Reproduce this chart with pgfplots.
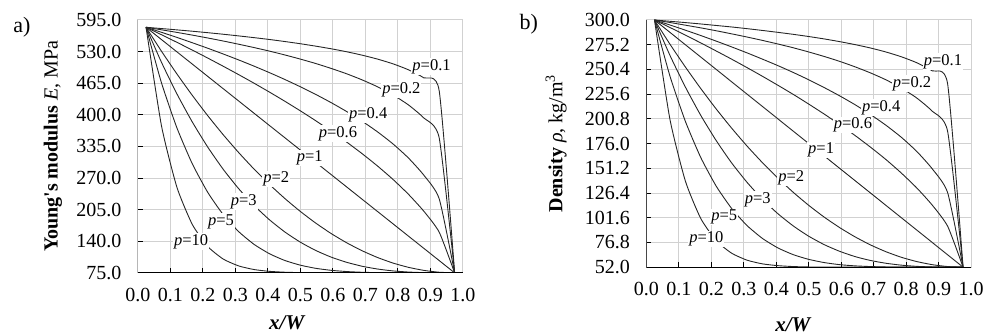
\documentclass[border=0pt]{standalone}
\usepackage{fontspec}
\setmainfont{Liberation Serif}
\usepackage{pgfplots}
\pgfplotsset{compat=1.18}
\usepackage{pgfplotstable}

\pgfplotstableread{
x      p01   p02   p04   p06   p1     p2    p3    p5    p10
0.025  580   580   580   580   580    580   580   580   580
0.0725 577.4 574.8 569.7 564.7 554.75 530.8 508.0 465.8 377.4
0.12   574.7 569.5 559.2 549.1 529.5  484.1 443.1 373.2 251.1
0.1675 571.9 563.9 548.2 533.1 504.25 439.9 385.1 299.1 174.4
0.215  568.9 558.0 536.9 516.7 479    398.2 333.6 240.5 129.2
0.2625 565.7 551.8 525.1 499.9 453.75 359.1 288.0 194.8 103.4
0.31   562.3 545.2 512.9 482.7 428.5  322.5 248.2 159.9 89.3
0.3575 558.7 538.3 500.1 465.0 403.25 288.4 213.7 133.6 81.8
0.405  554.9 531.0 486.7 446.7 378    256.8 184.1 114.3 78.1
0.4525 550.7 523.1 472.6 427.8 352.75 227.8 159.0 100.4 76.3
0.5    546.2 514.6 457.7 408.2 327.5  201.3 138.1 90.8  75.5
0.5475 541.2 505.5 441.9 387.8 302.25 177.3 121.0 84.3  75.2
0.595  535.8 495.4 425.0 366.4 277    155.8 107.3 80.2  75.1
0.6425 529.7 484.4 406.8 344.0 251.75 136.9 96.7  77.7  75.0
0.69   522.7 471.9 387.0 320.2 226.5  120.5 88.6  76.2  75.0
0.7375 514.6 457.7 365.0 294.8 201.25 106.6 82.9  75.5  75.0
0.785  504.9 441.0 340.3 267.3 176    95.2  79.0  75.2  75.0
0.8325 492.7 420.5 311.4 236.8 150.75 86.4  76.7  75.0  75.0
0.88   476.1 393.6 276.0 201.9 125.5  80.1  75.5  75.0  75.0
0.9275 449.3 352.4 227.4 158.7 100.25 76.3  75.1  75.0  75.0
0.975  75    75    75    75    75     75    75    75    75
}\tableA

\pgfplotstableread{
x      p01   p02   p04   p06   p1    p2    p3    p5    p10
0.025  300   300   300   300   300   300   300   300   300
0.0725 298.7 297.5 295.0 292.5 287.6 275.8 264.6 243.9 200.5
0.12   297.4 294.8 289.8 284.8 275.2 252.9 232.8 198.4 138.5
0.1675 296.0 292.1 284.4 277.0 262.8 231.2 204.3 162.0 100.8
0.215  294.5 289.2 278.8 268.9 250.4 210.7 179.0 133.3 78.6
0.2625 293.0 286.1 273.0 260.7 238   191.5 156.6 110.9 66.0
0.31   291.3 282.9 267.0 252.2 225.6 173.5 137.1 93.7  59.0
0.3575 289.5 279.5 260.7 243.5 213.2 156.8 120.1 80.8  55.3
0.405  287.6 275.9 254.2 234.5 200.8 141.3 105.6 71.3  53.5
0.4525 285.6 272.1 247.3 225.3 188.4 127.0 93.3  64.5  52.6
0.5    283.4 267.9 240.0 215.6 176   114.0 83.0  59.8  52.2
0.5475 281.0 263.4 232.2 205.6 163.6 102.2 74.6  56.6  52.1
0.595  278.3 258.5 223.9 195.1 151.2 91.7  67.9  54.5  52.0
0.6425 275.3 253.0 215.0 184.1 138.8 82.4  62.6  53.3  52.0
0.69   271.9 246.9 205.2 172.4 126.4 74.3  58.7  52.6  52.0
0.7375 267.9 240.0 194.4 160.0 114   67.5  55.9  52.2  52.0
0.785  263.1 231.7 182.3 146.4 101.6 61.9  54.0  52.1  52.0
0.8325 257.1 221.7 168.1 131.5 89.2  57.6  52.8  52.0  52.0
0.88   249.0 208.5 150.7 114.3 76.8  54.5  52.2  52.0  52.0
0.9275 235.8 188.2 126.8 93.1  64.4  52.6  52.0  52.0  52.0
0.975  52    52    52    52    52    52    52    52    52
}\tableB

\newcommand{\tfont}{\fontsize{20}{24}\selectfont}
\newcommand{\pfont}{\fontsize{16.5}{19}\selectfont}

\pgfplotsset{
  curve/.style={black!85, line width=0.9pt, smooth, tension=0.35, mark=none, solid},
  myaxis/.style={
    scale only axis,
    width=325pt,
    xmin=0, xmax=1,
    xtick={0,0.1,0.2,0.3,0.4,0.5,0.6,0.7,0.8,0.9,1},
    xtick pos=bottom, ytick pos=left,
    axis line style={draw=black!18, line width=1pt},
    tick align=inside,
    major tick length=5pt,
    major tick style={draw=black, line width=1pt},
    xmajorgrids, ymajorgrids,
    major grid style={draw=black!18, line width=1pt},
    xticklabel={\pgfmathprintnumber[fixed,fixed zerofill,precision=1,assume math mode=true]{\tick}},
    yticklabel={\pgfmathprintnumber[fixed,fixed zerofill,precision=1,assume math mode=true]{\tick}},
    tick label style={font=\tfont},
    xticklabel style={yshift=-12pt},
    yticklabel style={xshift=-13pt},
  }
}

\begin{document}
\begin{tikzpicture}
\node[font=\fontsize{22}{26}\selectfont] at (22pt,308pt) {a)};
\node[font=\fontsize{22}{26}\selectfont] at (529pt,311pt) {b)};

\begin{axis}[myaxis,
  at={(138pt,62pt)}, anchor=south west,
  height=253pt,
  ymin=75, ymax=595,
  ytick={75,140,205,270,335,400,465,530,595},
  every axis y label/.style={at={(axis description cs:-0.262,0.5)}, rotate=90, anchor=center, font=\tfont},
  every axis x label/.style={at={(axis description cs:0.46,-0.198)}, anchor=center, font=\fontsize{21}{24}\selectfont},
  ylabel={\textbf{Young\textquotesingle s modulus} \textit{E}, MPa},
  xlabel={\textbf{\textit{x/W}}},
]
\addplot[curve] table[x=x, y=p01] {\tableA};
\addplot[curve] table[x=x, y=p02] {\tableA};
\addplot[curve] table[x=x, y=p04] {\tableA};
\addplot[curve] table[x=x, y=p06] {\tableA};
\addplot[curve] table[x=x, y=p1] {\tableA};
\addplot[curve] table[x=x, y=p2] {\tableA};
\addplot[curve] table[x=x, y=p3] {\tableA};
\addplot[curve] table[x=x, y=p5] {\tableA};
\addplot[curve] table[x=x, y=p10] {\tableA};
\begin{scope}[every node/.style={fill=white, inner sep=1pt, font=\pfont}]
\node at (axis cs:0.904,499) {\textit{p}=0.1};
\node at (axis cs:0.811,451) {\textit{p}=0.2};
\node at (axis cs:0.709,400) {\textit{p}=0.4};
\node at (axis cs:0.616,362) {\textit{p}=0.6};
\node at (axis cs:0.529,311) {\textit{p}=1};
\node at (axis cs:0.426,268) {\textit{p}=2};
\node at (axis cs:0.326,222) {\textit{p}=3};
\node at (axis cs:0.256,180.5) {\textit{p}=5};
\node at (axis cs:0.164,139.4) {\textit{p}=10};
\end{scope}
\draw[black, line width=1pt] (rel axis cs:0,1) -- (rel axis cs:0,0) -- (rel axis cs:1,0);
\end{axis}

\begin{axis}[myaxis,
  at={(646.7pt,67.7pt)}, anchor=south west,
  height=247.3pt,
  ymin=52, ymax=300,
  ytick={52,76.8,101.6,126.4,151.2,176,200.8,225.6,250.4,275.2,300},
  every axis y label/.style={at={(axis description cs:-0.278,0.5)}, rotate=90, anchor=center, font=\tfont},
  every axis x label/.style={at={(axis description cs:0.453,-0.233)}, anchor=center, font=\fontsize{21}{24}\selectfont},
  ylabel={\textbf{Density} \textit{ρ}, kg/m\textsuperscript{3}},
  xlabel={\textbf{\textit{x/W}}},
]
\addplot[curve] table[x=x, y=p01] {\tableB};
\addplot[curve] table[x=x, y=p02] {\tableB};
\addplot[curve] table[x=x, y=p04] {\tableB};
\addplot[curve] table[x=x, y=p06] {\tableB};
\addplot[curve] table[x=x, y=p1] {\tableB};
\addplot[curve] table[x=x, y=p2] {\tableB};
\addplot[curve] table[x=x, y=p3] {\tableB};
\addplot[curve] table[x=x, y=p5] {\tableB};
\addplot[curve] table[x=x, y=p10] {\tableB};
\begin{scope}[every node/.style={fill=white, inner sep=1pt, font=\pfont}]
\node at (axis cs:0.913,258.2) {\textit{p}=0.1};
\node at (axis cs:0.818,236.5) {\textit{p}=0.2};
\node at (axis cs:0.723,212.4) {\textit{p}=0.4};
\node at (axis cs:0.636,194.7) {\textit{p}=0.6};
\node at (axis cs:0.538,169.6) {\textit{p}=1};
\node at (axis cs:0.446,141.2) {\textit{p}=2};
\node at (axis cs:0.343,120) {\textit{p}=3};
\node at (axis cs:0.24,102.5) {\textit{p}=5};
\node at (axis cs:0.185,80) {\textit{p}=10};
\end{scope}
\draw[black, line width=1pt] (rel axis cs:0,1) -- (rel axis cs:0,0) -- (rel axis cs:1,0);
\end{axis}
\path (0,0) (987pt,335pt);
\end{tikzpicture}
\end{document}
